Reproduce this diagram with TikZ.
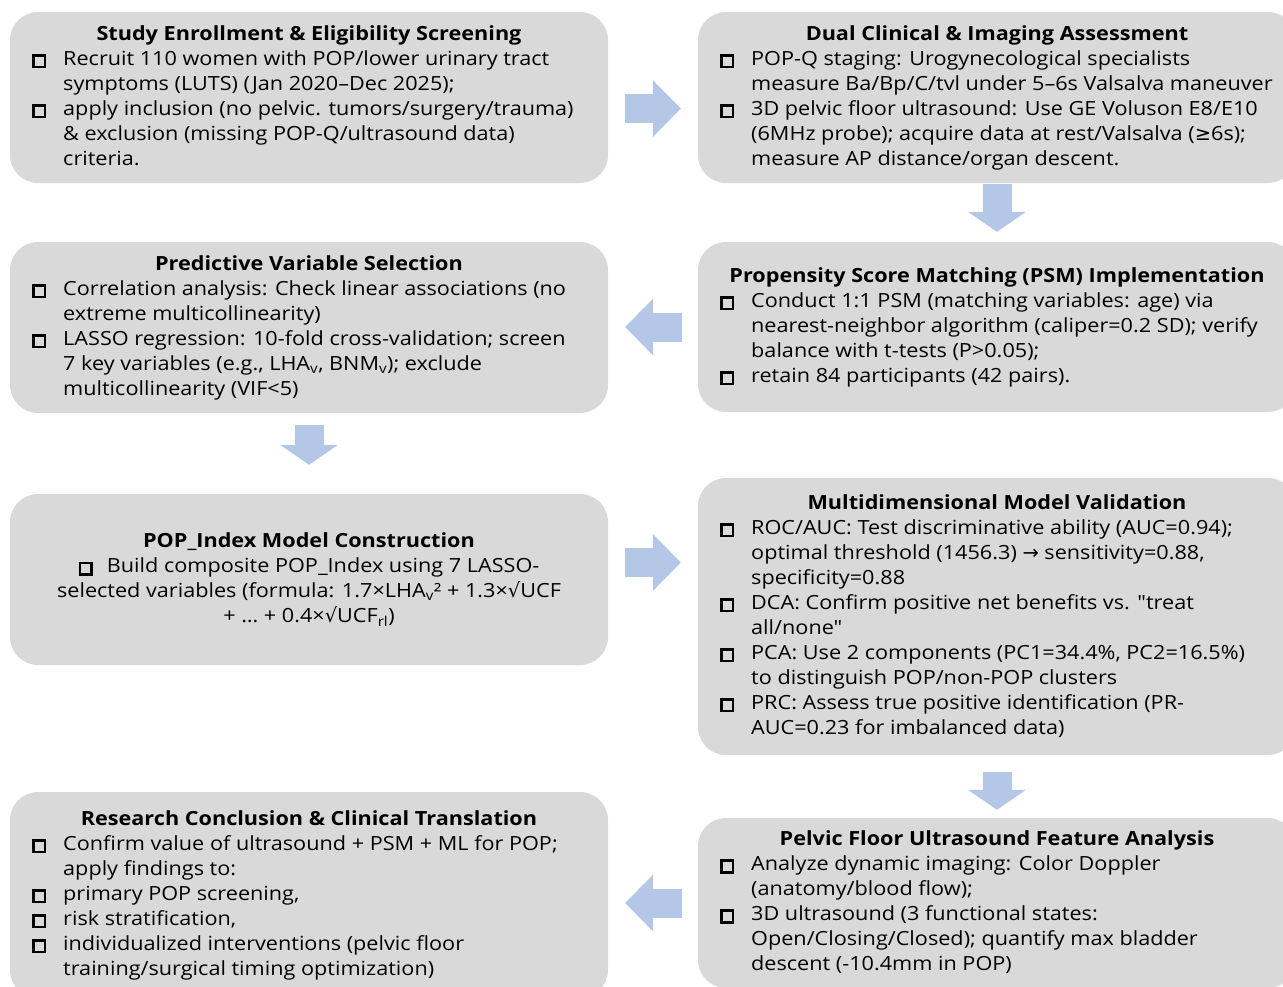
\documentclass[tikz,border=0pt]{standalone}
\usepackage{fontspec}
\setmainfont{Open Sans}[FakeStretch=1.11, Ligatures=TeXOff]
\newfontfamily\symfont{DejaVu Sans}
\usetikzlibrary{arrows.meta}

\definecolor{boxgray}{HTML}{D9D9D9}
\definecolor{flowblue}{HTML}{B4C7E7}

\newcommand{\sqb}{\raisebox{-0.5pt}{\setlength{\fboxrule}{2.6pt}\setlength{\fboxsep}{0pt}\fbox{\rule{0pt}{9pt}\rule{9pt}{0pt}}}}
\newcommand{\sym}[1]{{\symfont #1}}
\newcommand{\stagetitle}[1]{\multicolumn{2}{@{}c@{}}{\makebox[554pt]{\bfseries #1}}}

\tikzset{
  stage/.style={fill=boxgray, rounded corners=28pt, minimum width=598pt, inner sep=0pt,
    font=\fontsize{19.5}{25}\selectfont},
  flow/.style={draw=flowblue, line width=29pt, -{Triangle[width=57pt,length=28pt,line width=0pt]}},
  flowdown/.style={draw=flowblue, line width=29pt, -{Triangle[width=58pt,length=20pt,line width=0pt]}}
}

\begin{document}
\begin{tikzpicture}[x=1pt,y=-1pt]
   \useasboundingbox (0,0) rectangle (1283,986);
   % stages, left column
   \node[stage, minimum height=171pt] (enroll) at (309,97.5) {\begin{tabular}{@{}l@{\hspace{17pt}}l@{}}
     \stagetitle{Study Enrollment \& Eligibility Screening}\\
     \sqb & Recruit 110 women with POP/lower urinary tract\\
          & symptoms (LUTS) (Jan 2020–Dec 2025);\\
     \sqb & apply inclusion (no pelvic. tumors/surgery/trauma)\\
          & \& exclusion (missing POP-Q/ultrasound data)\\
          & criteria.
   \end{tabular}};
   \node[stage, minimum height=171pt] (select) at (309,327.5) {\begin{tabular}{@{}l@{\hspace{17pt}}l@{}}
     \stagetitle{Predictive Variable Selection}\\
     \sqb & Correlation analysis: Check linear associations (no\\
          & extreme multicollinearity)\\
     \sqb & LASSO regression: 10-fold cross-validation; screen\\
          & 7 key variables (e.g., LHA\textsubscript{v}, BNM\textsubscript{v}); exclude\\
          & multicollinearity (VIF<5)
   \end{tabular}};
   \node[stage, minimum height=171pt, align=center] (index) at (309,579.5) {%
     {\bfseries POP\_Index Model Construction}\\
     \sqb\hspace{14pt}Build composite POP\_Index using 7 LASSO-\\
     selected variables (formula: 1.7×LHA\textsubscript{v}² + 1.3×\sym{√}UCF\\
     + \ldots{} + 0.4×\sym{√}UCF\textsubscript{rl})};
   \node[stage, minimum height=206pt] (concl) at (309,895) {\begin{tabular}{@{}l@{\hspace{17pt}}l@{}}
     \stagetitle{Research Conclusion \& Clinical Translation}\\
     \sqb & Confirm value of ultrasound + PSM + ML for POP;\\
          & apply findings to:\\
     \sqb & primary POP screening,\\
     \sqb & risk stratification,\\
     \sqb & individualized interventions (pelvic floor\\
          & training/surgical timing optimization)
   \end{tabular}};
   % stages, right column
   \node[stage, minimum height=171pt] (dual) at (997,97.5) {\begin{tabular}{@{}l@{\hspace{17pt}}l@{}}
     \stagetitle{Dual Clinical \& Imaging Assessment}\\
     \sqb & POP-Q staging: Urogynecological specialists\\
          & measure Ba/Bp/C/tvl under 5–6s Valsalva maneuver\\
     \sqb & 3D pelvic floor ultrasound: Use GE Voluson E8/E10\\
          & (6MHz probe); acquire data at rest/Valsalva (\sym{≥}6s);\\
          & measure AP distance/organ descent.
   \end{tabular}};
   \node[stage, minimum height=170pt] (psm) at (997,327) {\begin{tabular}{@{}l@{\hspace{17pt}}l@{}}
     \stagetitle{Propensity Score Matching (PSM) Implementation}\\
     \sqb & Conduct 1:1 PSM (matching variables: age) via\\
          & nearest-neighbor algorithm (caliper=0.2 SD); verify\\
          & balance with t-tests (P>0.05);\\
     \sqb & retain 84 participants (42 pairs).
   \end{tabular}};
   \node[stage, minimum height=277pt] (valid) at (997,616.5) {\begin{tabular}{@{}l@{\hspace{17pt}}l@{}}
     \stagetitle{Multidimensional Model Validation}\\
     \sqb & ROC/AUC: Test discriminative ability (AUC=0.94);\\
          & optimal threshold (1456.3) \sym{→} sensitivity=0.88,\\
          & specificity=0.88\\
     \sqb & DCA: Confirm positive net benefits vs. "treat\\
          & all/none"\\
     \sqb & PCA: Use 2 components (PC1=34.4\%, PC2=16.5\%)\\
          & to distinguish POP/non-POP clusters\\
     \sqb & PRC: Assess true positive identification (PR-\\
          & AUC=0.23 for imbalanced data)
   \end{tabular}};
   \node[stage, minimum height=170pt] (ultra) at (997,903) {\begin{tabular}{@{}l@{\hspace{17pt}}l@{}}
     \stagetitle{Pelvic Floor Ultrasound Feature Analysis}\\
     \sqb & Analyze dynamic imaging: Color Doppler\\
          & (anatomy/blood flow);\\
     \sqb & 3D ultrasound (3 functional states:\\
          & Open/Closing/Closed); quantify max bladder\\
          & descent (-10.4mm in POP)
   \end{tabular}};
   % flow arrows
   \draw[flow, shorten <=17pt, shorten >=17pt] ([yshift=-11pt]enroll.east) -- ([yshift=-11pt]enroll.east -| dual.west);
   \draw[flowdown, shorten <=1pt, shorten >=10pt] (dual.south) -- (psm.north);
   \draw[flow, shorten <=16pt, shorten >=17pt] (psm.west) -- (psm.west -| select.east);
   \draw[flowdown, shorten <=12pt, shorten >=29pt] (select.south) -- (index.north);
   \draw[flow, shorten <=17pt, shorten >=17pt] ([yshift=17pt]index.east) -- ([yshift=17pt]index.east -| valid.west);
   \draw[flowdown, shorten <=17pt, shorten >=8pt] (valid.south) -- (ultra.north);
   \draw[flow, shorten <=16pt, shorten >=17pt] (ultra.west) -- (ultra.west -| concl.east);
\end{tikzpicture}
\end{document}
